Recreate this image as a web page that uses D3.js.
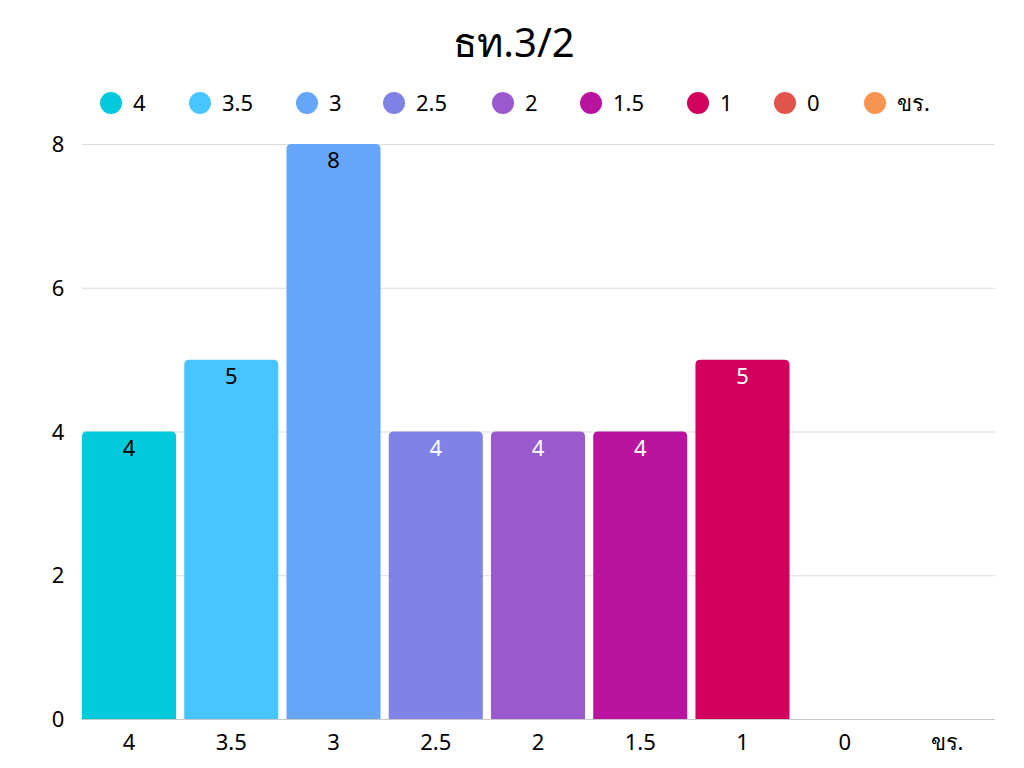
<!DOCTYPE html>
<html>
<head>
<meta charset="utf-8">
<script src="https://cdn.jsdelivr.net/npm/d3@7"></script>
<style>
  body { margin: 0; background: #fff; }
  svg { display: block; font-family: "Noto Sans", "Open Sans", sans-serif; }
</style>
</head>
<body>
<svg width="1024" height="768"></svg>
<script>
// Data
const categories = ["4", "3.5", "3", "2.5", "2", "1.5", "1", "0", "ขร."]
const counts = [4, 5, 8, 4, 4, 4, 5, 0, 0]
const colors = ["#00CADC", "#48C4FF", "#66A6F9", "#8082E5", "#9A5ACD", "#B913A0", "#D0005C", "#E0544A", "#F89452"]
const labelColors = ["#000", "#000", "#000", "#fff", "#fff", "#fff", "#fff", "#fff", "#fff"]
const yTicks = [0, 2, 4, 6, 8]
const title = "ธท.3/2"

const bars = categories.map((c, i) => ({ name: c, value: counts[i], color: colors[i], label: labelColors[i] }))

const svg = d3.select("svg")

// Title
svg.append("text")
    .attr("x", 514)
    .attr("y", 57)
    .attr("text-anchor", "middle")
    .attr("font-size", 40)
    .attr("fill", "#000")
    .text(title)

// Legend
const legendX = [111, 200, 307, 394, 503, 591, 698, 785, 875]
const legend = svg.append("g")
    .selectAll("g")
    .data(bars)
    .enter()
    .append("g")
    .attr("transform", (d, i) => `translate(${legendX[i]},103)`)

legend.append("circle")
    .attr("r", 11)
    .attr("fill", d => d.color)

legend.append("text")
    .attr("x", 22)
    .attr("y", 8)
    .attr("font-size", 22)
    .attr("fill", "#000")
    .text(d => d.name)

// Scales
const x = d3.scaleBand()
    .domain(categories)
    .range([82, 994])
    .paddingInner(0.08)
    .paddingOuter(0)

const y = d3.scaleLinear()
    .domain([0, 8])
    .range([719, 144])

// Gridlines
svg.append("g")
    .selectAll("line")
    .data(yTicks)
    .enter()
    .append("line")
    .attr("x1", 82)
    .attr("x2", 995)
    .attr("y1", d => y(d) + 0.5)
    .attr("y2", d => y(d) + 0.5)
    .attr("stroke", d => d === 0 ? "#c8c8c8" : "#dcdcdc")
    .attr("stroke-width", 1)

// Y axis labels
svg.append("g")
    .selectAll("text")
    .data(yTicks)
    .enter()
    .append("text")
    .attr("x", 58)
    .attr("y", d => y(d) + 8)
    .attr("text-anchor", "middle")
    .attr("font-size", 22)
    .attr("fill", "#000")
    .text(d => d)

// Bars with rounded top corners
const r = 5
function barPath(d) {
    const x0 = x(d.name)
    const w = x.bandwidth()
    const top = y(d.value)
    const bottom = y(0)
    return `M${x0},${bottom} L${x0},${top + r} Q${x0},${top} ${x0 + r},${top}` +
        ` L${x0 + w - r},${top} Q${x0 + w},${top} ${x0 + w},${top + r} L${x0 + w},${bottom} Z`
}

const shown = bars.filter(d => d.value > 0)

svg.append("g")
    .selectAll("path")
    .data(shown)
    .enter()
    .append("path")
    .attr("d", barPath)
    .attr("fill", d => d.color)

// Value labels
svg.append("g")
    .selectAll("text")
    .data(shown)
    .enter()
    .append("text")
    .attr("x", d => x(d.name) + x.bandwidth() / 2)
    .attr("y", d => y(d.value) + 24)
    .attr("text-anchor", "middle")
    .attr("font-size", 22)
    .attr("fill", d => d.label)
    .text(d => d.value)

// X axis labels
svg.append("g")
    .selectAll("text")
    .data(categories)
    .enter()
    .append("text")
    .attr("x", d => x(d) + x.bandwidth() / 2)
    .attr("y", 750)
    .attr("text-anchor", "middle")
    .attr("font-size", 22)
    .attr("fill", "#000")
    .text(d => d)
</script>
</body>
</html>
